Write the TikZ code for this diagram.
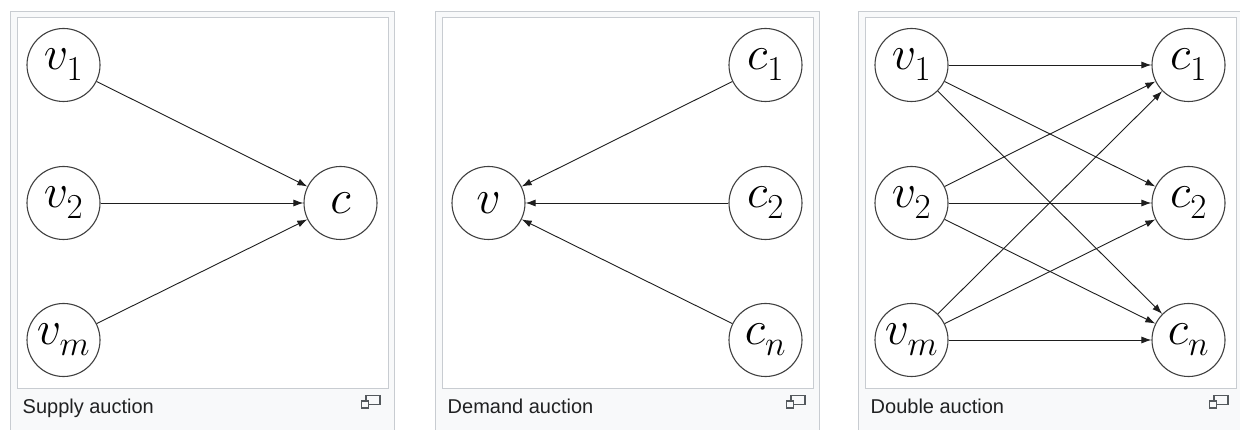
\RequirePackage{fix-cm}
\documentclass[tikz,border=0pt]{standalone}
\usepackage{fontspec}
\setsansfont{Liberation Sans}
\usetikzlibrary{arrows.meta}

\DeclareMathSizes{48}{48}{35}{26}

\definecolor{framegray}{HTML}{C8CCD1}
\definecolor{capbg}{HTML}{F8F9FA}
\definecolor{captext}{HTML}{202122}
\definecolor{icongray}{HTML}{54595D}
\definecolor{ink}{HTML}{1E1E1E}

% subscript set a little lower than TeX's default
\newcommand\lowsub[1]{_{\raisebox{-3.5pt}{$\scriptstyle#1$}}}

\tikzset{
  vert/.style={circle, draw=ink!85, line width=1.1pt, minimum size=73pt,
    inner sep=0pt, font=\fontsize{48}{48}\selectfont},
  arc/.style={draw=ink, line width=0.9pt, -{Latex[length=10pt,width=7pt]}},
  captionlabel/.style={font=\sffamily\fontsize{20}{20}\selectfont,
    text=captext, inner sep=0pt, anchor=base west},
}

% Thumbnail frame: #1 = left edge of the image box, #2 = caption, #3 = name
\newcommand\auctionframe[3]{%
  \fill[capbg] (#1-7,12) rectangle (#1+377,445);
  \draw[framegray, line width=1pt] (#1-7,445) -- (#1-7,12) -- (#1+377,12) -- (#1+377,445);
  \fill[white] (#1,18) rectangle (#1+371,388);
  \draw[framegray, line width=1pt] (#1,18) rectangle (#1+371,388);
  \node[captionlabel] (cap#3) at (#1+5.5,413.5) {#2};
  % enlarge icon
  \draw[icongray, line width=1.1pt] (#1+349,395.5) rectangle (#1+363,404.5);
  \filldraw[fill=capbg, draw=icongray, line width=1.1pt] (#1+344.5,401) rectangle (#1+351.5,408);
}

\begin{document}
\begin{tikzpicture}[x=1pt, y=-1pt]
  \useasboundingbox (0,0) rectangle (1240,430);
  \clip (0,0) rectangle (1240,430);
  \fill[white] (0,0) rectangle (1240,430);

  \auctionframe{17}{Supply auction}{supply}
  \auctionframe{442}{Demand auction}{demand}
  \auctionframe{865}{Double auction}{double}

  % Supply auction: many sellers, one buyer
  \node[vert] (sv1) at (63.5,65)  {$v\lowsub1$};
  \node[vert] (sv2) at (63.5,203) {$v\lowsub2$};
  \node[vert] (svm) at (63.5,340) {$v\lowsub m$};
  \node[vert] (sc)  at (340.5,203) {$c$};
  \foreach \s in {sv1,sv2,svm} \draw[arc] (\s) -- (sc);

  % Demand auction: many buyers, one seller
  \node[vert] (dv)  at (488.5,203) {$v$};
  \node[vert] (dc1) at (765.5,65)  {$c\lowsub1$};
  \node[vert] (dc2) at (765.5,203) {$c\lowsub2$};
  \node[vert] (dcn) at (765.5,340) {$c\lowsub n$};
  \foreach \b in {dc1,dc2,dcn} \draw[arc] (\b) -- (dv);

  % Double auction: every seller to every buyer
  \node[vert] (bv1) at (911.5,65)  {$v\lowsub1$};
  \node[vert] (bv2) at (911.5,203) {$v\lowsub2$};
  \node[vert] (bvm) at (911.5,340) {$v\lowsub m$};
  \node[vert] (bc1) at (1188.5,65)  {$c\lowsub1$};
  \node[vert] (bc2) at (1188.5,203) {$c\lowsub2$};
  \node[vert] (bcn) at (1188.5,340) {$c\lowsub n$};
  \foreach \s in {bv1,bv2,bvm}
    \foreach \b in {bc1,bc2,bcn}
      \draw[arc] (\s) -- (\b);
\end{tikzpicture}
\end{document}
